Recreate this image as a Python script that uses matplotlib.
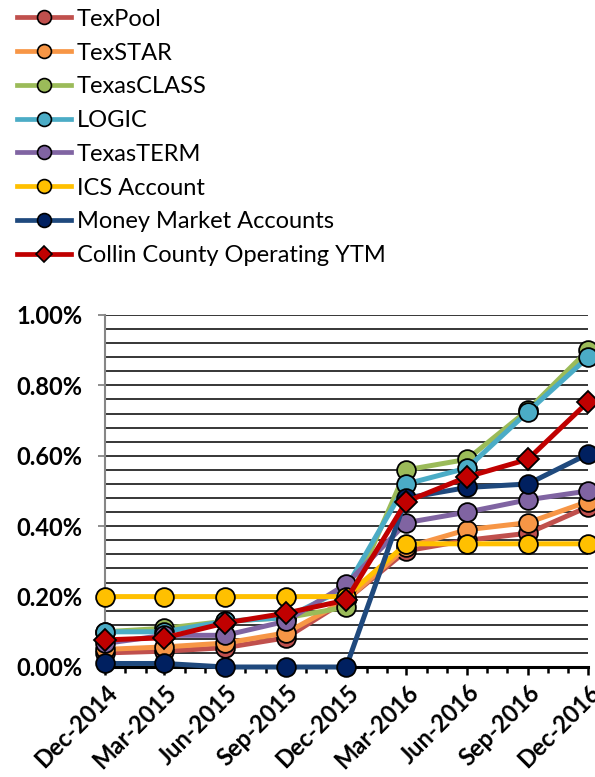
import matplotlib
matplotlib.use("Agg")
import matplotlib.pyplot as plt
import matplotlib.dates as mdates
from matplotlib.ticker import FuncFormatter, MultipleLocator
from matplotlib.lines import Line2D
import datetime as dt

dates = ["2014-12-01", "2015-03-01", "2015-06-01", "2015-09-01", "2015-12-01",
         "2016-03-01", "2016-06-01", "2016-09-01", "2016-12-01"]

series_names = ["TexPool", "TexSTAR", "TexasCLASS", "LOGIC", "TexasTERM",
                "ICS Account", "Money Market Accounts", "Collin County Operating YTM"]

texpool     = [0.04, 0.045, 0.055, 0.083, 0.19, 0.33, 0.36, 0.38, 0.455]
texstar     = [0.05, 0.057, 0.068, 0.097, 0.19, 0.34, 0.39, 0.41, 0.47]
texasclass  = [0.10, 0.11, 0.13, 0.14, 0.17, 0.56, 0.59, 0.73, 0.90]
logic       = [0.10, 0.10, 0.13, 0.14, 0.225, 0.52, 0.565, 0.725, 0.88]
texasterm   = [0.067, 0.09, 0.09, 0.13, 0.235, 0.41, 0.44, 0.475, 0.50]
ics         = [0.20, 0.20, 0.20, 0.20, 0.20, 0.35, 0.35, 0.35, 0.35]
mma         = [0.01, 0.01, 0.00, 0.00, 0.00, 0.48, 0.51, 0.52, 0.605]
collin      = [0.077, 0.083, 0.125, 0.153, 0.19, 0.47, 0.54, 0.59, 0.753]

values = [texpool, texstar, texasclass, logic, texasterm, ics, mma, collin]
line_colors = ["#C0504D", "#F79646", "#9BBB59", "#4BACC6", "#8064A2",
               "#FFC000", "#1F497D", "#C00000"]
marker_colors = ["#C0504D", "#F79646", "#9BBB59", "#4BACC6", "#8064A2",
                 "#FFC000", "#002060", "#C00000"]
markers = ["o", "o", "o", "o", "o", "o", "o", "D"]

x = [dt.datetime.strptime(d, "%Y-%m-%d") for d in dates]

plt.rcParams['font.family'] = ['Lato', 'DejaVu Sans']

fig = plt.figure(figsize=(5.95, 7.77), dpi=100)
ax = fig.add_axes([105/595, 1-667/777, (588-105)/595, (667-315)/777])

for i, (name, vals) in enumerate(zip(series_names, values)):
    ms = 13.5 if markers[i] == "o" else 11
    ax.plot(x, vals, color=line_colors[i], lw=3.6, marker=markers[i],
            markersize=ms, markerfacecolor=marker_colors[i],
            markeredgecolor="black", markeredgewidth=1.3,
            zorder=3 + i, clip_on=False, label=name)

ax.set_xlim(x[0], x[-1])
ax.set_ylim(0, 1.0)

ax.yaxis.set_major_locator(MultipleLocator(0.2))
ax.yaxis.set_minor_locator(MultipleLocator(0.04))
ax.yaxis.set_major_formatter(FuncFormatter(lambda v, p: f"{v:.2f}%"))
ax.grid(which="both", axis="y", color="black", lw=1.1, zorder=1)
ax.set_axisbelow(True)

ax.xaxis.set_major_locator(mdates.MonthLocator(bymonth=[3, 6, 9, 12]))
ax.xaxis.set_minor_locator(mdates.MonthLocator())
ax.xaxis.set_major_formatter(mdates.DateFormatter("%b-%Y"))

for s in ["top", "right"]:
    ax.spines[s].set_visible(False)
ax.spines["left"].set_color("#868686")
ax.spines["left"].set_linewidth(1.5)
ax.spines["bottom"].set_color("black")
ax.spines["bottom"].set_linewidth(2.2)
ax.spines["bottom"].set_zorder(2)

ax.tick_params(axis="y", which="major", length=5, width=1.3, color="#868686",
               labelsize=17, pad=11)
ax.tick_params(axis="y", which="minor", length=0)
ax.tick_params(axis="x", which="major", length=6, width=1.8, color="black",
               labelsize=17, pad=4)
ax.tick_params(axis="x", which="minor", length=4, width=1.8, color="black")

for lab in ax.get_yticklabels():
    lab.set_fontweight("bold")
for lab in ax.get_xticklabels():
    lab.set_fontweight("bold")
    lab.set_rotation(45)
    lab.set_ha("right")
    lab.set_rotation_mode("anchor")

leg_handles = []
for i, name in enumerate(series_names):
    ms = 10 if markers[i] == "o" else 8.5
    leg_handles.append(Line2D([0], [0], color=line_colors[i], lw=3.4,
                              marker=markers[i], markersize=ms,
                              markerfacecolor=marker_colors[i],
                              markeredgecolor="black", markeredgewidth=1.2))
fig.legend(leg_handles, series_names, loc="upper left",
           bbox_to_anchor=(0.0, 1.01), frameon=False, fontsize=17,
           handlelength=2.3, labelspacing=0.54, handletextpad=0.25,
           borderaxespad=0.3)

fig.savefig("out.png", dpi=100)
